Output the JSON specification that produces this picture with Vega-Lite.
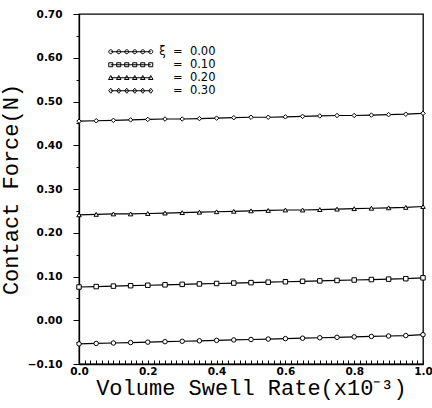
{
  "$schema": "https://vega.github.io/schema/vega-lite/v6.json",
  "autosize": "none",
  "width": 344,
  "height": 350,
  "padding": {"left": 79, "top": 14, "right": 9, "bottom": 44},
  "background": "white",
  "config": {
    "view": {"stroke": "black", "strokeWidth": 1.3},
    "axis": {"domainColor": "black", "tickColor": "black", "labelColor": "black", "titleColor": "black", "grid": false, "domainWidth": 1.3, "tickWidth": 1}
  },
  "datasets": {
    "curves": [
      {"x": 0.00, "f": -0.054, "xi": "0.00"}, {"x": 0.05, "f": -0.053, "xi": "0.00"}, {"x": 0.10, "f": -0.052, "xi": "0.00"}, {"x": 0.15, "f": -0.051, "xi": "0.00"}, {"x": 0.20, "f": -0.050, "xi": "0.00"}, {"x": 0.25, "f": -0.049, "xi": "0.00"}, {"x": 0.30, "f": -0.048, "xi": "0.00"}, {"x": 0.35, "f": -0.047, "xi": "0.00"}, {"x": 0.40, "f": -0.046, "xi": "0.00"}, {"x": 0.45, "f": -0.045, "xi": "0.00"}, {"x": 0.50, "f": -0.044, "xi": "0.00"}, {"x": 0.55, "f": -0.043, "xi": "0.00"}, {"x": 0.60, "f": -0.042, "xi": "0.00"}, {"x": 0.65, "f": -0.041, "xi": "0.00"}, {"x": 0.70, "f": -0.040, "xi": "0.00"}, {"x": 0.75, "f": -0.039, "xi": "0.00"}, {"x": 0.80, "f": -0.038, "xi": "0.00"}, {"x": 0.85, "f": -0.037, "xi": "0.00"}, {"x": 0.90, "f": -0.036, "xi": "0.00"}, {"x": 0.95, "f": -0.035, "xi": "0.00"}, {"x": 1.00, "f": -0.033, "xi": "0.00"},
      {"x": 0.00, "f": 0.076, "xi": "0.10"}, {"x": 0.05, "f": 0.077, "xi": "0.10"}, {"x": 0.10, "f": 0.078, "xi": "0.10"}, {"x": 0.15, "f": 0.079, "xi": "0.10"}, {"x": 0.20, "f": 0.080, "xi": "0.10"}, {"x": 0.25, "f": 0.081, "xi": "0.10"}, {"x": 0.30, "f": 0.082, "xi": "0.10"}, {"x": 0.35, "f": 0.083, "xi": "0.10"}, {"x": 0.40, "f": 0.084, "xi": "0.10"}, {"x": 0.45, "f": 0.085, "xi": "0.10"}, {"x": 0.50, "f": 0.086, "xi": "0.10"}, {"x": 0.55, "f": 0.087, "xi": "0.10"}, {"x": 0.60, "f": 0.088, "xi": "0.10"}, {"x": 0.65, "f": 0.089, "xi": "0.10"}, {"x": 0.70, "f": 0.090, "xi": "0.10"}, {"x": 0.75, "f": 0.091, "xi": "0.10"}, {"x": 0.80, "f": 0.092, "xi": "0.10"}, {"x": 0.85, "f": 0.093, "xi": "0.10"}, {"x": 0.90, "f": 0.094, "xi": "0.10"}, {"x": 0.95, "f": 0.095, "xi": "0.10"}, {"x": 1.00, "f": 0.097, "xi": "0.10"},
      {"x": 0.00, "f": 0.241, "xi": "0.20"}, {"x": 0.05, "f": 0.242, "xi": "0.20"}, {"x": 0.10, "f": 0.243, "xi": "0.20"}, {"x": 0.15, "f": 0.243, "xi": "0.20"}, {"x": 0.20, "f": 0.244, "xi": "0.20"}, {"x": 0.25, "f": 0.245, "xi": "0.20"}, {"x": 0.30, "f": 0.246, "xi": "0.20"}, {"x": 0.35, "f": 0.247, "xi": "0.20"}, {"x": 0.40, "f": 0.248, "xi": "0.20"}, {"x": 0.45, "f": 0.249, "xi": "0.20"}, {"x": 0.50, "f": 0.250, "xi": "0.20"}, {"x": 0.55, "f": 0.251, "xi": "0.20"}, {"x": 0.60, "f": 0.252, "xi": "0.20"}, {"x": 0.65, "f": 0.252, "xi": "0.20"}, {"x": 0.70, "f": 0.253, "xi": "0.20"}, {"x": 0.75, "f": 0.254, "xi": "0.20"}, {"x": 0.80, "f": 0.255, "xi": "0.20"}, {"x": 0.85, "f": 0.256, "xi": "0.20"}, {"x": 0.90, "f": 0.257, "xi": "0.20"}, {"x": 0.95, "f": 0.258, "xi": "0.20"}, {"x": 1.00, "f": 0.260, "xi": "0.20"},
      {"x": 0.00, "f": 0.455, "xi": "0.30"}, {"x": 0.05, "f": 0.456, "xi": "0.30"}, {"x": 0.10, "f": 0.457, "xi": "0.30"}, {"x": 0.15, "f": 0.458, "xi": "0.30"}, {"x": 0.20, "f": 0.459, "xi": "0.30"}, {"x": 0.25, "f": 0.460, "xi": "0.30"}, {"x": 0.30, "f": 0.460, "xi": "0.30"}, {"x": 0.35, "f": 0.461, "xi": "0.30"}, {"x": 0.40, "f": 0.462, "xi": "0.30"}, {"x": 0.45, "f": 0.463, "xi": "0.30"}, {"x": 0.50, "f": 0.464, "xi": "0.30"}, {"x": 0.55, "f": 0.464, "xi": "0.30"}, {"x": 0.60, "f": 0.465, "xi": "0.30"}, {"x": 0.65, "f": 0.466, "xi": "0.30"}, {"x": 0.70, "f": 0.467, "xi": "0.30"}, {"x": 0.75, "f": 0.468, "xi": "0.30"}, {"x": 0.80, "f": 0.468, "xi": "0.30"}, {"x": 0.85, "f": 0.469, "xi": "0.30"}, {"x": 0.90, "f": 0.470, "xi": "0.30"}, {"x": 0.95, "f": 0.471, "xi": "0.30"}, {"x": 1.00, "f": 0.473, "xi": "0.30"}
    ]
  },
  "data": {"name": "curves"},
  "encoding": {
    "x": {
      "field": "x", "type": "quantitative",
      "scale": {"domain": [0, 1], "nice": false, "zero": false},
      "axis": {
        "title": "Volume Swell Rate(x10⁻³)",
        "titleFont": "Liberation Mono", "titleFontSize": 22, "titleFontWeight": "normal", "titlePadding": 1,
        "values": [0, 0.0167, 0.0333, 0.05, 0.0667, 0.0833, 0.1, 0.1167, 0.1333, 0.15, 0.1667, 0.1833, 0.2, 0.2167, 0.2333, 0.25, 0.2667, 0.2833, 0.3, 0.3167, 0.3333, 0.35, 0.3667, 0.3833, 0.4, 0.4167, 0.4333, 0.45, 0.4667, 0.4833, 0.5, 0.5167, 0.5333, 0.55, 0.5667, 0.5833, 0.6, 0.6167, 0.6333, 0.65, 0.6667, 0.6833, 0.7, 0.7167, 0.7333, 0.75, 0.7667, 0.7833, 0.8, 0.8167, 0.8333, 0.85, 0.8667, 0.8833, 0.9, 0.9167, 0.9333, 0.95, 0.9667, 0.9833, 1],
        "labelExpr": "abs(datum.value*5 - round(datum.value*5)) < 0.001 ? format(datum.value, '.1f') : ''",
        "labelFont": "DejaVu Sans", "labelFontWeight": "bold", "labelFontSize": 10.5, "labelPadding": 6,
        "labelFlush": false, "labelOverlap": false,
        "tickSize": -4
      }
    },
    "y": {
      "field": "f", "type": "quantitative",
      "scale": {"domain": [-0.1, 0.7], "nice": false, "zero": false},
      "axis": {
        "title": "Contact Force(N)",
        "titleFont": "Liberation Mono", "titleFontSize": 22, "titleFontWeight": "normal", "titlePadding": 5,
        "values": [-0.1, -0.05, 0, 0.05, 0.1, 0.15, 0.2, 0.25, 0.3, 0.35, 0.4, 0.45, 0.5, 0.55, 0.6, 0.65, 0.7],
        "labelExpr": "abs(datum.value*10 - round(datum.value*10)) < 0.001 ? format(datum.value, '.2f') : ''",
        "labelFont": "DejaVu Sans", "labelFontWeight": "bold", "labelFontSize": 10.5, "labelPadding": 11,
        "labelFlush": false, "labelOverlap": false,
        "tickSize": {"condition": {"test": "abs(datum.value*10 - round(datum.value*10)) < 0.001", "value": 6}, "value": 3}
      }
    }
  },
  "layer": [
    {
      "mark": {"type": "line", "strokeWidth": 1.2},
      "encoding": {
        "color": {
          "field": "xi", "type": "nominal",
          "scale": {"range": ["black", "black", "black", "black"]},
          "legend": {
            "title": null,
            "orient": "none", "legendX": 46, "legendY": 32,
            "symbolType": "M-4,0H4M-4.4,0a0.4,0.4 0 1,0 0.8,0a0.4,0.4 0 1,0 -0.8,0M-2.8,0a0.4,0.4 0 1,0 0.8,0a0.4,0.4 0 1,0 -0.8,0M-1.2,0a0.4,0.4 0 1,0 0.8,0a0.4,0.4 0 1,0 -0.8,0M0.4,0a0.4,0.4 0 1,0 0.8,0a0.4,0.4 0 1,0 -0.8,0M2,0a0.4,0.4 0 1,0 0.8,0a0.4,0.4 0 1,0 -0.8,0M3.6,0a0.4,0.4 0 1,0 0.8,0a0.4,0.4 0 1,0 -0.8,0",
            "symbolSize": 100, "symbolStrokeWidth": 1, "symbolFillColor": "transparent",
            "labelOffset": 79, "labelAlign": "right", "rowPadding": 0, "padding": 0,
            "labelFont": "DejaVu Sans", "labelFontSize": 11.5, "labelColor": "black",
            "labelExpr": "datum.label == '0.00' ? 'ξ\u00a0\u00a0=\u00a0 0.00' : '=\u00a0 ' + datum.label",
            "encode": {
              "symbols": {
                "update": {
                  "shape": {"signal": "datum.value == '0.10' ? 'M-4,0H4M-4.4,-0.4h0.8v0.8h-0.8ZM-2.8,-0.4h0.8v0.8h-0.8ZM-1.2,-0.4h0.8v0.8h-0.8ZM0.4,-0.4h0.8v0.8h-0.8ZM2,-0.4h0.8v0.8h-0.8ZM3.6,-0.4h0.8v0.8h-0.8Z' : datum.value == '0.20' ? 'M-4,0H4M-4,-0.45l0.45,0.8h-0.9ZM-2.4,-0.45l0.45,0.8h-0.9ZM-0.8,-0.45l0.45,0.8h-0.9ZM0.8,-0.45l0.45,0.8h-0.9ZM2.4,-0.45l0.45,0.8h-0.9ZM4,-0.45l0.45,0.8h-0.9Z' : datum.value == '0.30' ? 'M-4,0H4M-4,-0.5l0.4,0.5l-0.4,0.5l-0.4,-0.5ZM-2.4,-0.5l0.4,0.5l-0.4,0.5l-0.4,-0.5ZM-0.8,-0.5l0.4,0.5l-0.4,0.5l-0.4,-0.5ZM0.8,-0.5l0.4,0.5l-0.4,0.5l-0.4,-0.5ZM2.4,-0.5l0.4,0.5l-0.4,0.5l-0.4,-0.5ZM4,-0.5l0.4,0.5l-0.4,0.5l-0.4,-0.5Z' : 'M-4,0H4M-4.4,0a0.4,0.4 0 1,0 0.8,0a0.4,0.4 0 1,0 -0.8,0M-2.8,0a0.4,0.4 0 1,0 0.8,0a0.4,0.4 0 1,0 -0.8,0M-1.2,0a0.4,0.4 0 1,0 0.8,0a0.4,0.4 0 1,0 -0.8,0M0.4,0a0.4,0.4 0 1,0 0.8,0a0.4,0.4 0 1,0 -0.8,0M2,0a0.4,0.4 0 1,0 0.8,0a0.4,0.4 0 1,0 -0.8,0M3.6,0a0.4,0.4 0 1,0 0.8,0a0.4,0.4 0 1,0 -0.8,0'"}
                }
              }
            }
          }
        }
      }
    },
    {
      "mark": {"type": "point", "filled": false, "size": 20, "strokeWidth": 1, "color": "black", "fill": "white", "fillOpacity": 1, "opacity": 1},
      "encoding": {
        "shape": {
          "field": "xi", "type": "nominal",
          "scale": {"range": ["circle", "square", "triangle-up", "diamond"]},
          "legend": null
        }
      }
    }
  ]
}
